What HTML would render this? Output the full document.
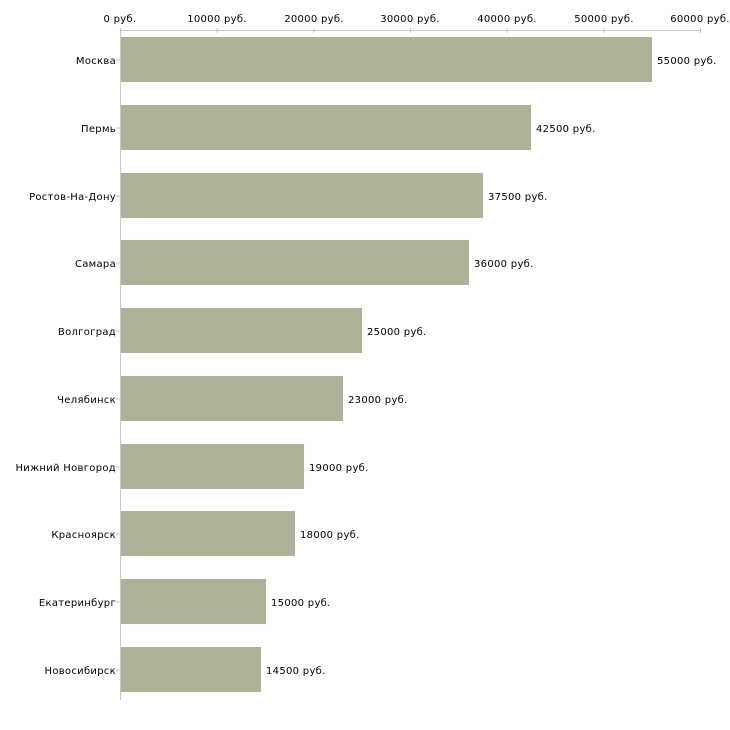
<!DOCTYPE html>
<html><head><meta charset="utf-8"><style>body{margin:0;background:#fff}svg{display:block}text{font-family:"DejaVu Sans","Liberation Sans",sans-serif;font-size:10px;fill:#000;letter-spacing:0.3px}</style></head><body>
<svg width="730" height="730" xmlns="http://www.w3.org/2000/svg">
<line x1="120" y1="30.5" x2="700" y2="30.5" stroke="#c8c8c8"/>
<line x1="120.5" y1="30" x2="120.5" y2="700" stroke="#c8c8c8"/>
<g stroke="#c8c8a0">
<line x1="120.5" y1="28" x2="120.5" y2="33"/><line x1="217.2" y1="28" x2="217.2" y2="33"/><line x1="313.8" y1="28" x2="313.8" y2="33"/><line x1="410.5" y1="28" x2="410.5" y2="33"/><line x1="507.2" y1="28" x2="507.2" y2="33"/><line x1="603.8" y1="28" x2="603.8" y2="33"/><line x1="700.5" y1="28" x2="700.5" y2="33"/>
</g>
<g text-anchor="middle">
<text x="120" y="22">0 руб.</text><text x="217" y="22">10000 руб.</text><text x="314" y="22">20000 руб.</text><text x="410" y="22">30000 руб.</text><text x="507" y="22">40000 руб.</text><text x="604" y="22">50000 руб.</text><text x="700" y="22">60000 руб.</text>
</g>
<g fill="#adb398">
<rect x="121" y="37" width="531" height="45"/>
<rect x="121" y="105" width="410" height="45"/>
<rect x="121" y="173" width="362" height="45"/>
<rect x="121" y="240" width="348" height="45"/>
<rect x="121" y="308" width="241" height="45"/>
<rect x="121" y="376" width="222" height="45"/>
<rect x="121" y="444" width="183" height="45"/>
<rect x="121" y="511" width="174" height="45"/>
<rect x="121" y="579" width="145" height="45"/>
<rect x="121" y="647" width="140" height="45"/>
</g>
<g stroke="#c8c8a0">
<line x1="116" y1="60" x2="120" y2="60"/><line x1="116" y1="128" x2="120" y2="128"/><line x1="116" y1="196" x2="120" y2="196"/><line x1="116" y1="263" x2="120" y2="263"/><line x1="116" y1="331" x2="120" y2="331"/><line x1="116" y1="399" x2="120" y2="399"/><line x1="116" y1="467" x2="120" y2="467"/><line x1="116" y1="534" x2="120" y2="534"/><line x1="116" y1="602" x2="120" y2="602"/><line x1="116" y1="670" x2="120" y2="670"/>
</g>
<g text-anchor="end">
<text x="116" y="64">Москва</text><text x="116" y="132">Пермь</text><text x="116" y="200">Ростов-На-Дону</text><text x="116" y="267">Самара</text><text x="116" y="335">Волгоград</text><text x="116" y="403">Челябинск</text><text x="116" y="471">Нижний Новгород</text><text x="116" y="538">Красноярск</text><text x="116" y="606">Екатеринбург</text><text x="116" y="674">Новосибирск</text>
</g>
<g>
<text x="657" y="64">55000 руб.</text><text x="536" y="132">42500 руб.</text><text x="488" y="200">37500 руб.</text><text x="474" y="267">36000 руб.</text><text x="367" y="335">25000 руб.</text><text x="348" y="403">23000 руб.</text><text x="309" y="471">19000 руб.</text><text x="300" y="538">18000 руб.</text><text x="271" y="606">15000 руб.</text><text x="266" y="674">14500 руб.</text>
</g>
</svg>
</body></html>
